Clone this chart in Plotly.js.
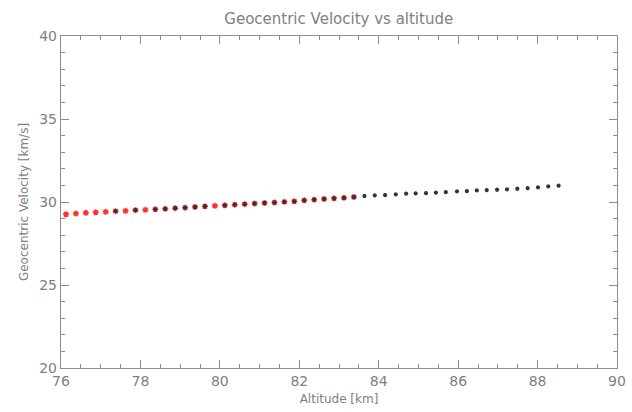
<!DOCTYPE html>
<html>
<head>
<meta charset="utf-8">
<script src="https://cdn.plot.ly/plotly-3.0.1.min.js"></script>
<style>html,body{margin:0;padding:0;background:#fff;}#chart{width:632px;height:412px;}</style>
</head>
<body>
<div id="chart"></div>
<script>
// Red series (fit region)
const redAltitude = [76.125,76.375,76.625,76.875,77.125,77.375,77.625,77.875,78.125,78.375,
  78.625,78.875,79.125,79.375,79.625,79.875,80.125,80.375,80.625,80.875,
  81.125,81.375,81.625,81.875,82.125,82.375,82.625,82.875,83.125,83.375];
const redVelocity = [29.26,29.30,29.35,29.38,29.41,29.45,29.47,29.51,29.53,29.56,
  29.59,29.63,29.66,29.70,29.74,29.77,29.80,29.84,29.87,29.91,
  29.94,29.97,30.01,30.04,30.10,30.14,30.18,30.22,30.25,30.30];
// Black series (all observations)
const blackAltitude = [77.375,77.875,78.375,78.625,78.875,79.125,79.375,79.625,80.125,80.375,
  80.625,80.875,81.125,81.375,81.625,81.875,82.125,82.375,82.625,82.875,
  83.125,83.375,83.64,83.90,84.16,84.43,84.69,84.93,85.19,85.44,
  85.69,85.97,86.22,86.47,86.72,86.98,87.23,87.49,87.75,88.01,
  88.27,88.53];
const blackVelocity = [29.45,29.51,29.56,29.59,29.63,29.66,29.70,29.74,29.80,29.84,
  29.87,29.91,29.94,29.97,30.01,30.04,30.10,30.14,30.18,30.22,
  30.25,30.30,30.36,30.40,30.42,30.46,30.50,30.52,30.54,30.56,
  30.60,30.64,30.66,30.70,30.72,30.74,30.76,30.80,30.84,30.88,
  30.94,30.99];
const xTickValues = [76,78,80,82,84,86,88,90];
const yTickValues = [20,25,30,35,40];

const grey = '#8c8c8c';
const textGrey = '#808080';
const fontFam = '"DejaVu Sans", "Liberation Sans", sans-serif';

const traces = [
  {x: redAltitude, y: redVelocity, type: 'scatter', mode: 'markers', showlegend: false,
   marker: {symbol: 'asterisk-open', size: 5, color: '#ff3030', line: {color: '#ff3030', width: 1.5}}},
  {x: blackAltitude, y: blackVelocity, type: 'scatter', mode: 'markers', showlegend: false,
   marker: {symbol: 'asterisk-open', size: 3.5, color: '#333', line: {color: '#333', width: 1.2}}}
];

const axisCommon = {
  showgrid: false, zeroline: false, showline: true, linecolor: grey, linewidth: 1.2,
  mirror: 'ticks', ticks: 'inside', ticklen: 8, tickwidth: 1, tickcolor: grey,
  tickfont: {family: fontFam, size: 14, color: textGrey}
};

const layout = {
  width: 632, height: 412,
  margin: {l: 61, r: 15, t: 36, b: 44},
  paper_bgcolor: '#fff', plot_bgcolor: '#fff',
  title: {text: 'Geocentric Velocity vs altitude', x: 0.536, xanchor: 'center', y: 0.955, yanchor: 'middle',
          font: {family: fontFam, size: 15, color: textGrey}},
  xaxis: Object.assign({}, axisCommon, {
    range: [76, 90], tickmode: 'array', tickvals: xTickValues, ticktext: xTickValues.map(String),
    minor: {dtick: 0.5, ticks: 'inside', ticklen: 4, tickcolor: grey, showgrid: false},
    title: {text: 'Altitude [km]', font: {family: fontFam, size: 12, color: textGrey}, standoff: 6}
  }),
  yaxis: Object.assign({}, axisCommon, {
    range: [20, 40], tickmode: 'array', tickvals: yTickValues, ticktext: yTickValues.map(String),
    minor: {dtick: 1, ticks: 'inside', ticklen: 4, tickcolor: grey, showgrid: false},
    title: {text: 'Geocentric Velocity [km/s]', font: {family: fontFam, size: 12, color: textGrey}, standoff: 8}
  })
};

Plotly.newPlot('chart', traces, layout, {displayModeBar: false, staticPlot: true});
</script>
</body>
</html>
